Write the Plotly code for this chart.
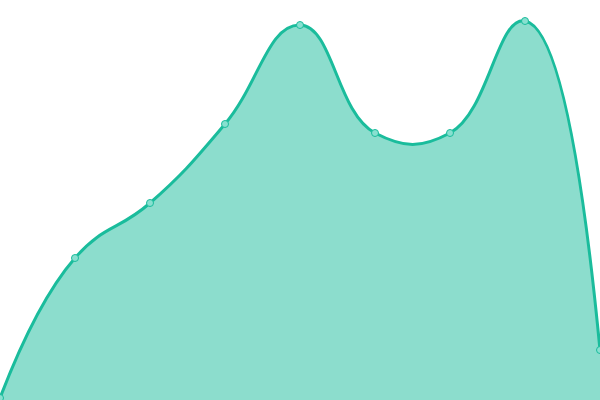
import plotly.graph_objects as go

# sample positions and heights
xs = [0, 1, 2, 3, 4, 5, 6, 7, 8]
ys = [2, 142, 197, 276, 375, 267, 267, 379, 50]

lineColor = '#1abc9c'
fillColor = 'rgba(26,188,156,0.5)'

fig = go.Figure()
fig.add_trace(go.Scatter(
    x=xs,
    y=ys,
    mode='lines+markers',
    line=dict(color=lineColor, width=3, shape='spline', smoothing=1.3),
    marker=dict(size=7, color='#88e0d0', line=dict(color=lineColor, width=1)),
    fill='tozeroy',
    fillcolor=fillColor,
    cliponaxis=False,
    hoverinfo='skip',
))

fig.update_layout(
    width=600,
    height=400,
    margin=dict(l=0, r=0, t=0, b=0),
    paper_bgcolor='white',
    plot_bgcolor='white',
    showlegend=False,
)
fig.update_xaxes(visible=False, range=[0, 8], fixedrange=True)
fig.update_yaxes(visible=False, range=[0, 400], fixedrange=True)

# the page body has a default margin; drop it so the plot sits at 0,0
fig.write_html(
    "out.html",
    config={'displayModeBar': False, 'staticPlot': True},
    post_script="document.body.style.margin='0';",
)
